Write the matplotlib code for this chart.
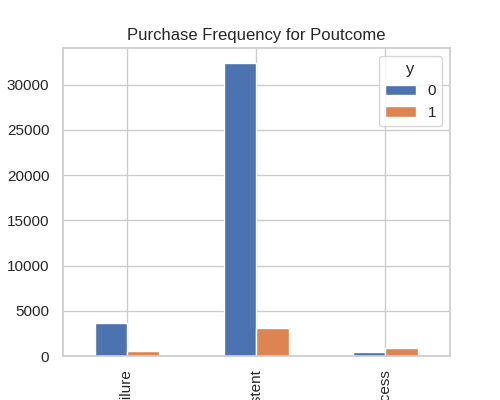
import numpy as np
import pandas as pd
import matplotlib
matplotlib.use('Agg')
import matplotlib.pyplot as plt
import seaborn as sns

sns.set(style='whitegrid')
plt.rcParams['font.family'] = ['Liberation Sans', 'DejaVu Sans']

# purchase counts by previous campaign outcome
poutcome = ['failure', 'nonexistent', 'success']
y0 = [3647, 32422, 479]
y1 = [605, 3141, 894]

table = pd.DataFrame({0: y0, 1: y1}, index=poutcome)
table.columns.name = 'y'
table.index.name = 'poutcome'

fig = plt.figure(figsize=(5, 4), dpi=100)
ax = fig.add_subplot(111)
table.plot(kind='bar', ax=ax)
ax.set_title('Purchase Frequency for Poutcome')
ax.set_xlabel('Poutcome')
ax.set_ylabel('Frequency of Purchase')
fig.savefig('out.png', dpi=100)
